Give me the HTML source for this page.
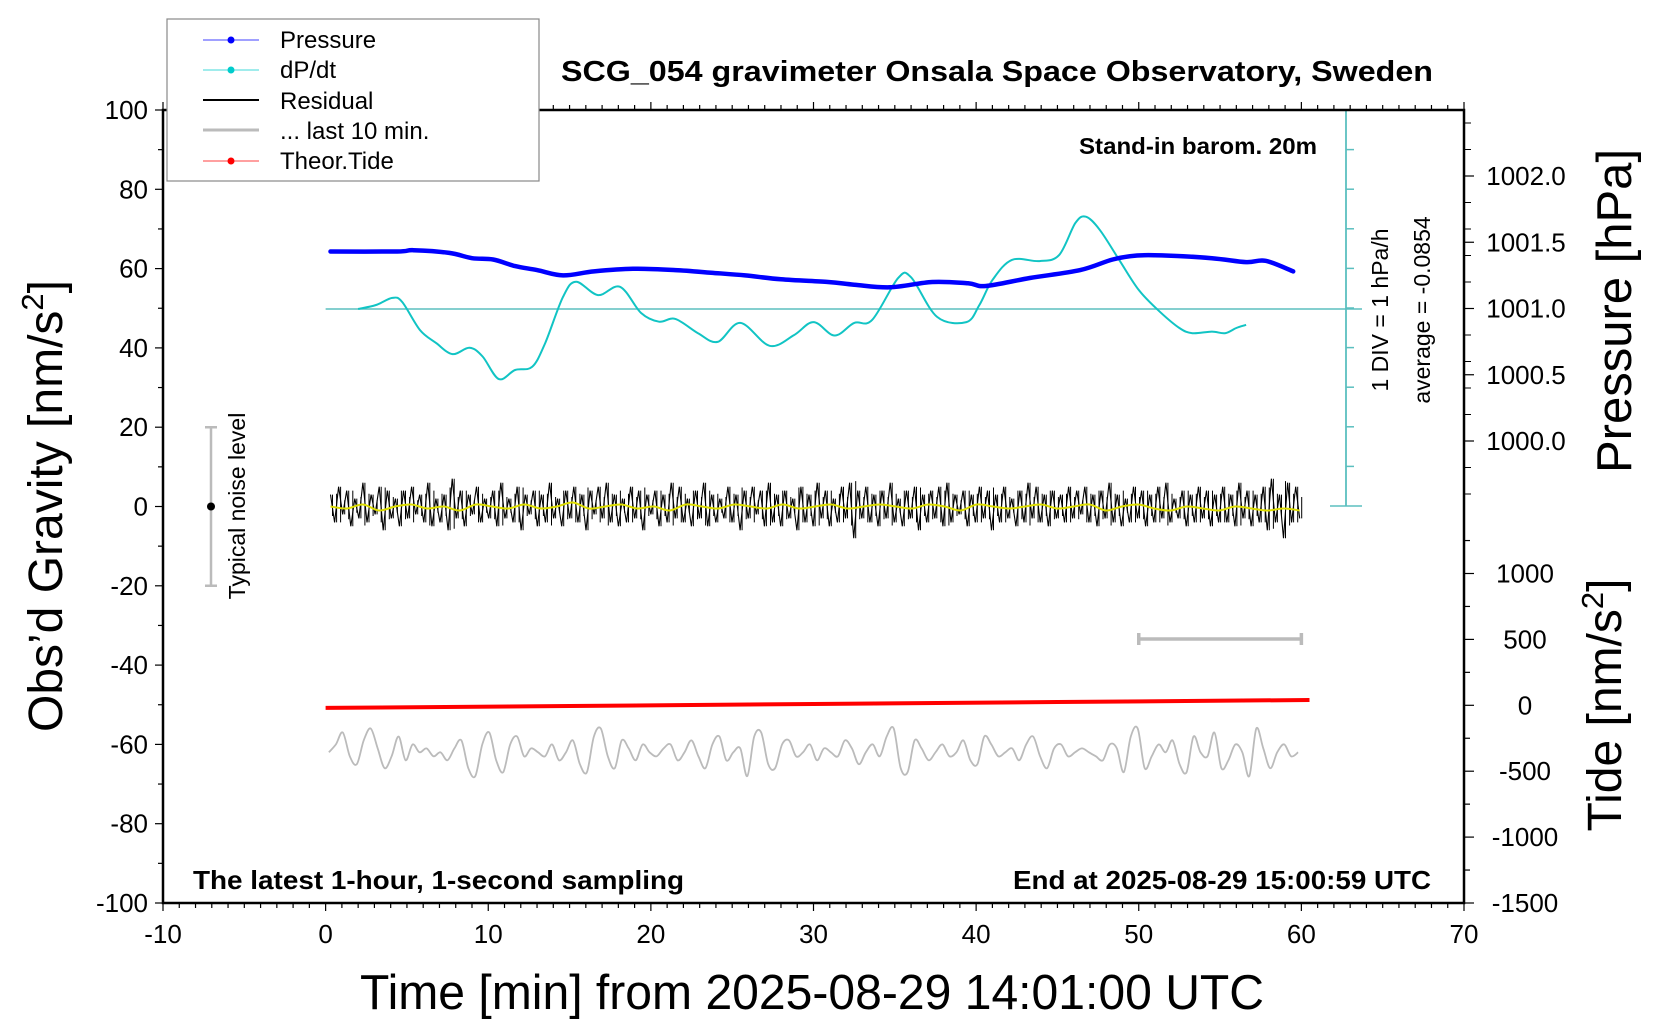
<!DOCTYPE html>
<html><head><meta charset="utf-8"><style>
html,body{margin:0;padding:0;background:#fff;}
svg{display:block;font-family:"Liberation Sans",Arial,sans-serif;}
</style></head><body>
<svg id="chart" width="1660" height="1020" viewBox="0 0 1660 1020" xmlns="http://www.w3.org/2000/svg">
<g id="marks"></g>
<g id="axes"></g>
<text x="561" y="81" font-size="29" font-weight="bold" textLength="872" lengthAdjust="spacingAndGlyphs">SCG_054 gravimeter Onsala Space Observatory, Sweden</text>
<text x="1079" y="154" font-size="23" font-weight="bold" textLength="238" lengthAdjust="spacingAndGlyphs">Stand-in barom. 20m</text>
<text x="193" y="889" font-size="26" font-weight="bold" textLength="491" lengthAdjust="spacingAndGlyphs">The latest 1-hour, 1-second sampling</text>
<text x="1013" y="889" font-size="26" font-weight="bold" textLength="418" lengthAdjust="spacingAndGlyphs">End at 2025-08-29 15:00:59 UTC</text>
<text x="360" y="1009" font-size="49" textLength="904" lengthAdjust="spacingAndGlyphs">Time [min] from 2025-08-29 14:01:00 UTC</text>
<text transform="translate(62,506) rotate(-90)" font-size="48" text-anchor="middle">Obs’d Gravity [nm/s<tspan font-size="31" dy="-19">2</tspan><tspan dy="19">]</tspan></text>
<text transform="translate(1631,311) rotate(-90)" font-size="49" text-anchor="middle">Pressure [hPa]</text>
<text transform="translate(1621,705) rotate(-90)" font-size="48" text-anchor="middle">Tide [nm/s<tspan font-size="31" dy="-18">2</tspan><tspan dy="18">]</tspan></text>
<text transform="translate(1388,310) rotate(-90)" font-size="23" text-anchor="middle">1 DIV = 1 hPa/h</text>
<text transform="translate(1430,310) rotate(-90)" font-size="23" text-anchor="middle">average = -0.0854</text>
<text transform="translate(245,506) rotate(-90)" font-size="23" text-anchor="middle">Typical noise level</text>
<g>
<rect x="167" y="19" width="372" height="162" fill="#fff" stroke="#888" stroke-width="1.2"/>
<g><line x1="203" y1="40" x2="259" y2="40" stroke="#00f" stroke-width="0.8"/><circle cx="231" cy="40" r="3.5" fill="#00f"/><text x="280" y="48" font-size="24">Pressure</text></g>
<g><line x1="203" y1="70" x2="259" y2="70" stroke="#0cc" stroke-width="0.8"/><circle cx="231" cy="70" r="3.5" fill="#0cc"/><text x="280" y="78" font-size="24">dP/dt</text></g>
<g><line x1="203" y1="100" x2="259" y2="100" stroke="#000" stroke-width="2"/><text x="280" y="109" font-size="24">Residual</text></g>
<g><line x1="203" y1="130" x2="259" y2="130" stroke="#bbb" stroke-width="3"/><text x="280" y="139" font-size="24">... last 10 min.</text></g>
<g><line x1="203" y1="161" x2="259" y2="161" stroke="#f00" stroke-width="0.8"/><circle cx="231" cy="161" r="3.5" fill="#f00"/><text x="280" y="169" font-size="24">Theor.Tide</text></g>
</g>
</svg>
<script>
const xTicks = [-10,0,10,20,30,40,50,60,70];
const yTicks = [100,80,60,40,20,0,-20,-40,-60,-80,-100];
const pTicks = ["1000.0","1000.5","1001.0","1001.5","1002.0"];
const tideTicks = [1000,500,0,-500,-1000,-1500];
const pressureT = [0.3,4.4,5.4,7.6,9,10.3,11.65,13,14.6,16.5,18.9,21.5,23.7,25.8,28,30.9,32.5,34.7,37.3,39.5,40.6,43.3,46.4,48.4,49.9,51.6,54.5,56.6,57.8,59.5];
const pressureV = [1001.43,1001.43,1001.44,1001.42,1001.38,1001.37,1001.32,1001.29,1001.25,1001.28,1001.30,1001.29,1001.27,1001.25,1001.22,1001.20,1001.18,1001.16,1001.20,1001.19,1001.17,1001.23,1001.29,1001.37,1001.40,1001.40,1001.38,1001.35,1001.36,1001.28];
const dpdtT = [2,3.1,4.1,4.7,5.8,6.8,7.8,8.85,9.65,10.65,11.65,12.7,13.5,14.6,15.4,16.75,18.1,19.4,20.5,21.5,22.9,24.1,25.5,27.3,28.8,30,31.3,32.5,33.6,35.2,36,37.6,39.4,40.2,41,42.2,43.9,45.1,46.1,46.75,47.6,48.8,50,51.3,52.5,53.3,54.5,55.3,56,56.6];
const dpdtV = [0,0.1,0.28,0.18,-0.53,-0.86,-1.14,-0.98,-1.2,-1.77,-1.54,-1.46,-0.86,0.31,0.69,0.35,0.56,-0.1,-0.32,-0.25,-0.61,-0.83,-0.35,-0.93,-0.66,-0.33,-0.67,-0.35,-0.28,0.78,0.8,-0.2,-0.33,0.1,0.73,1.24,1.21,1.36,2.17,2.33,2.0,1.24,0.48,-0.07,-0.48,-0.61,-0.57,-0.61,-0.48,-0.4];
const residualV = [3,-4,5,-2,4,-5,2,-3,6,-4,3,-2,5,-6,4,-3,2,-5,4,-3,5,-2,3,-4,6,-5,2,-4,3,-6,7,-3,4,-5,3,-2,5,-4,2,-3,4,-5,6,-3,2,-4,5,-6,3,-2,4,-5,3,-4,6,-3,2,-5,4,-3,5,-4,3,-6,4,-2,5,-3,6,-4,3,-5,2,-4,5,-3,4,-6,3,-2,4,-5,3,-4,6,-3,5,-4,2,-5,4,-3,6,-5,3,-4,2,-3,5,-4,3,-6,4,-3,5,-2,4,-5,6,-4,3,-5,4,-3,2,-6,5,-4,3,-5,6,-3,4,-5,2,-4,5,-3,6,-8,4,-3,5,-4,3,-5,4,-3,6,-4,2,-5,4,-3,5,-6,3,-4,4,-3,5,-5,6,-4,3,-2,4,-5,3,-4,5,-3,4,-6,3,-4,5,-3,2,-5,4,-4,6,-3,5,-4,3,-5,4,-3,3,-4,5,-3,4,-2,5,-4,3,-5,4,-3,6,-4,3,-5,2,-4,5,-3,4,-5,3,-4,5,-3,6,-4,2,-3,4,-5,3,-4,5,-3,4,-5,3,-4,5,-4,3,-5,6,-3,4,-5,3,-4,5,-6,7,-4,3,-8,6,-4,5,-3];
const smoothV = [0,-0.5,0.5,-1,0,0.5,-0.5,0,-1,0.5,0,-0.5,0.5,-0.5,0,1,-0.5,0,0.5,-0.5,0,-1,0.5,0,-0.5,0.5,0,-0.5,0.5,-0.5,0,0.5,-0.5,0,0.5,0,-0.5,0.5,0,-1,0.5,0,-0.5,0,0.5,-0.5,0,0.5,-1,0,0.5,-0.5,-1,0,-0.5,-1,0,-0.5,-1,-0.5,-1];
const last10V = [-62,-60,-57,-63,-65,-59,-56,-61,-66,-63,-58,-64,-60,-62,-61,-63,-62,-64,-61,-59,-66,-68,-60,-57,-64,-67,-60,-58,-63,-61,-62,-63,-60,-64,-62,-59,-65,-67,-58,-56,-63,-66,-59,-61,-64,-60,-62,-63,-61,-60,-64,-62,-59,-63,-66,-60,-58,-64,-62,-61,-68,-58,-57,-65,-66,-60,-59,-63,-62,-60,-64,-61,-62,-63,-59,-61,-65,-62,-60,-63,-58,-56,-66,-67,-59,-61,-64,-62,-60,-63,-62,-59,-64,-65,-58,-60,-63,-62,-61,-64,-60,-58,-63,-66,-61,-60,-63,-62,-61,-62,-63,-64,-60,-61,-67,-58,-56,-66,-63,-60,-62,-59,-65,-67,-58,-62,-63,-57,-66,-64,-60,-62,-68,-56,-61,-66,-62,-60,-63,-62];
const tideT = [0,15,30,45,60.5];
const tideV = [-20,-5,10,25,40];

const NS="http://www.w3.org/2000/svg";
const X0=163,X1=1464,Y0=110,Y1=903;
const xs=t=>X0+(t+10)/80*(X1-X0);
const ys=g=>Y1-(g+100)/200*(Y1-Y0);
const ps=p=>308.5-(p-1001)*132.5;
const ts=v=>705.3-v*0.1318;
const ds=v=>309-v*39.6;
const marks=document.getElementById('marks'), axes=document.getElementById('axes');
function mk(tag,attrs,parent){const e=document.createElementNS(NS,tag);for(const k in attrs)e.setAttribute(k,attrs[k]);parent.appendChild(e);return e;}
function pts(xa,ya){return xa.map((x,i)=>x.toFixed(1)+','+ya[i].toFixed(1)).join(' ');}
function smooth(xa,ya){let d='M'+xa[0].toFixed(1)+' '+ya[0].toFixed(1);
 for(let i=0;i<xa.length-1;i++){const x0=xa[Math.max(0,i-1)],y0=ya[Math.max(0,i-1)],x1=xa[i],y1=ya[i],x2=xa[i+1],y2=ya[i+1],x3=xa[Math.min(xa.length-1,i+2)],y3=ya[Math.min(xa.length-1,i+2)];
 d+=` C${(x1+(x2-x0)/6).toFixed(1)} ${(y1+(y2-y0)/6).toFixed(1)} ${(x2-(x3-x1)/6).toFixed(1)} ${(y2-(y3-y1)/6).toFixed(1)} ${x2.toFixed(1)} ${y2.toFixed(1)}`;}
 return d;}

let e=mk('line',{x1:xs(0),y1:309,x2:1362,y2:309,stroke:'#5bbfbf','stroke-width':1.5},marks);


e=mk('line',{x1:1346,y1:110,x2:1346,y2:506,stroke:'#5bbfbf','stroke-width':1.8},marks);


for(let i=0;i<=10;i++){const y=110+i*39.6;const w=(i==0||i==10)?16:8;
 const l=mk('line',{x1:(i==0||i==10)?1330:1346,y1:y,x2:1346+w,y2:y,stroke:'#5bbfbf','stroke-width':1.5},marks);
 
 }

e=mk('path',{d:`M205 ${ys(20)}H217M211 ${ys(20)}V${ys(-20)}M205 ${ys(-20)}H217`,stroke:'#bbb','stroke-width':2.5,fill:'none'},marks);


e=mk('circle',{cx:211,cy:ys(0),r:4,fill:'#000'},marks);


e=mk('path',{d:`M${xs(50)} 633V645M${xs(50)} 639H${xs(60)}M${xs(60)} 633V645`,stroke:'#bbb','stroke-width':3.5,fill:'none'},marks);



e=mk('path',{d:smooth(dpdtT.map(xs),dpdtV.map(ds)),fill:'none',stroke:'#11c4c4','stroke-width':2,'stroke-linejoin':'round'},marks);


e=mk('path',{d:smooth(pressureT.map(xs),pressureV.map(ps)),fill:'none',stroke:'#00f','stroke-width':4.5,'stroke-linejoin':'round','stroke-linecap':'round'},marks);


const rT=residualV.map((v,i)=>0.3+i*(59.6/(residualV.length-1)));
let sp='';
residualV.forEach((v,i)=>{const x=xs(rT[i])+2;sp+=`M${x.toFixed(1)} ${ys(v).toFixed(1)}V${ys(-v*0.8).toFixed(1)}`;});
e=mk('path',{d:sp,fill:'none',stroke:'#000','stroke-width':1},marks);


e=mk('polyline',{points:pts(rT.map(xs),residualV.map(ys)),fill:'none',stroke:'#000','stroke-width':1.1},marks);


const sT=smoothV.map((v,i)=>0.3+i*(59.6/(smoothV.length-1)));
e=mk('path',{d:smooth(sT.map(xs),smoothV.map(ys)),fill:'none',stroke:'#dd0','stroke-width':2},marks);


const gT=last10V.map((v,i)=>0.2+i*(59.6/(last10V.length-1)));
e=mk('path',{d:smooth(gT.map(xs),last10V.map(ys)),fill:'none',stroke:'#bbb','stroke-width':1.8},marks);


e=mk('polyline',{points:pts(tideT.map(xs),tideV.map(ts)),fill:'none',stroke:'#f00','stroke-width':4},marks);



e=mk('rect',{x:X0,y:Y0,width:X1-X0,height:Y1-Y0,fill:'none',stroke:'#000','stroke-width':2.5},axes);


for(let t=-10;t<=70;t++){const x=xs(t);const maj=t%10==0;const L=maj?8:5;
 mk('line',{x1:x,y1:Y1,x2:x,y2:Y1+L,stroke:'#000','stroke-width':1.2},axes);
 mk('line',{x1:x,y1:Y0,x2:x,y2:Y0-L,stroke:'#000','stroke-width':1.2},axes);}
xTicks.forEach(t=>{const l=mk('text',{x:xs(t),y:Y1+40,'font-size':26,'text-anchor':'middle'},axes);l.textContent=t;
 
 });
for(let g=-100;g<=100;g+=10){const y=ys(g);mk('line',{x1:X0,y1:y,x2:X0-(g%20==0?8:5),y2:y,stroke:'#000','stroke-width':1.2},axes);}
yTicks.forEach(g=>{const l=mk('text',{x:X0-15,y:ys(g)+9,'font-size':26,'text-anchor':'end'},axes);l.textContent=g;
 
 });
for(let p=999.2;p<=1002.6;p+=0.2){const y=ps(p);if(y<Y0||y>506)continue;mk('line',{x1:X1,y1:y,x2:X1+7,y2:y,stroke:'#000','stroke-width':1},axes);}
pTicks.forEach(s=>{const y=ps(parseFloat(s));mk('line',{x1:X1,y1:y,x2:X1+10,y2:y,stroke:'#000','stroke-width':1.2},axes);
 const l=mk('text',{x:1526,y:y+9,'font-size':26,'text-anchor':'middle'},axes);l.textContent=s;
 
 });
for(let v=-1500;v<=1250;v+=250){const y=ts(v);if(y<520)continue;mk('line',{x1:X1,y1:y,x2:X1+(v%500==0?10:6),y2:y,stroke:'#000','stroke-width':1.2},axes);}
tideTicks.forEach(v=>{const l=mk('text',{x:1525,y:ts(v)+9,'font-size':26,'text-anchor':'middle'},axes);l.textContent=v;
 
 });
</script>
</body></html>
